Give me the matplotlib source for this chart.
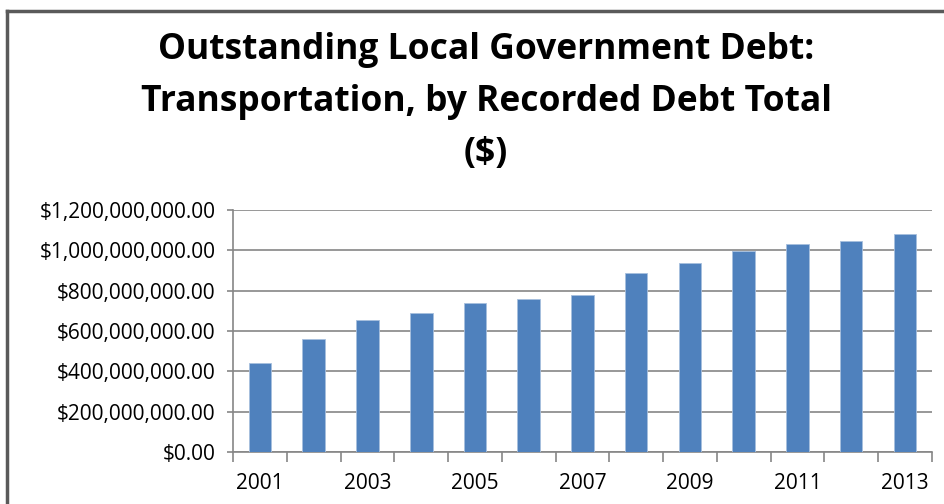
import matplotlib.pyplot as plt
from matplotlib.lines import Line2D
from matplotlib.ticker import FuncFormatter

years = list(range(2001, 2014))
debt = [441e6, 560e6, 654e6, 690e6, 739e6, 758e6, 778e6,
        887e6, 937e6, 996e6, 1031e6, 1046e6, 1081e6]
tick_years = [2001, 2003, 2005, 2007, 2009, 2011, 2013]

plt.rcParams['font.family'] = ['Open Sans', 'DejaVu Sans']

fig = plt.figure(figsize=(9.44, 5.04), dpi=100)
ax = fig.add_axes([0.247, 0.103, 0.740, 0.480])

ax.bar(years, debt, width=0.42, color='#4F81BD', edgecolor='#A7BFDE', linewidth=0.6, zorder=3)

ax.set_xlim(2000.5, 2013.5)
ax.set_ylim(0, 1.2e9)
ax.set_yticks([i * 200e6 for i in range(7)])
ax.yaxis.set_major_formatter(FuncFormatter(lambda v, p: f'${v:,.2f}'))
ax.set_xticks(tick_years)
ax.set_xticks([y + 0.5 for y in range(2000, 2014)], minor=True)
ax.tick_params(axis='x', which='major', length=0, labelsize=15, pad=15)
ax.tick_params(axis='x', which='minor', length=7, color='#868686', width=1.2)
ax.tick_params(axis='y', length=4.5, color='#868686', width=1.2, labelsize=15, pad=8)

ax.grid(axis='y', color='#868686', linewidth=1.2, zorder=0)
for side in ['top', 'right']:
    ax.spines[side].set_visible(False)
ax.spines['left'].set_color('#868686')
ax.spines['bottom'].set_color('#868686')
ax.spines['left'].set_linewidth(1.2)
ax.spines['bottom'].set_linewidth(1.2)

fig.text(0.515, 1 - 102 / 504, 'Outstanding Local Government Debt:\nTransportation, by Recorded Debt Total\n($)',
         ha='center', va='center', fontsize=25.5, fontweight='bold', linespacing=1.6)

# chart frame
fig.add_artist(Line2D([7 / 944, 1], [1 - 11 / 504, 1 - 11 / 504], color='#5a5a5a', lw=2.5))
fig.add_artist(Line2D([7 / 944, 7 / 944], [0, 1 - 11 / 504], color='#5a5a5a', lw=2.5))

fig.savefig('out.png', dpi=100)
